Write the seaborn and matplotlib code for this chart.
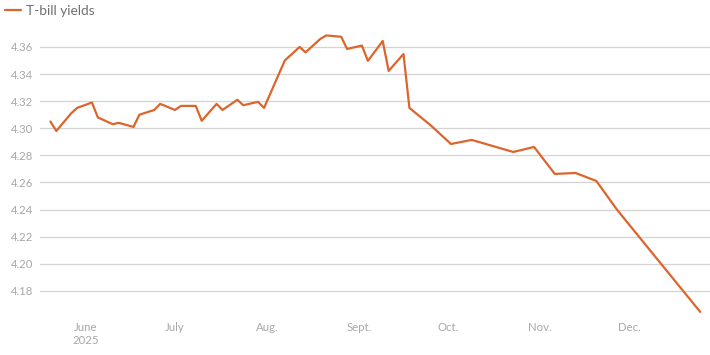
import pandas as pd
import matplotlib.pyplot as plt
import seaborn as sns

# T-bill yields
dates = ["2025-06-03", "2025-06-05", "2025-06-10", "2025-06-12", "2025-06-17",
         "2025-06-19", "2025-06-24", "2025-06-26", "2025-07-01", "2025-07-03",
         "2025-07-08", "2025-07-10", "2025-07-15", "2025-07-17", "2025-07-22",
         "2025-07-24", "2025-07-29", "2025-07-31", "2025-08-05", "2025-08-07",
         "2025-08-12", "2025-08-14", "2025-08-21", "2025-08-26", "2025-08-28",
         "2025-09-02", "2025-09-04", "2025-09-09", "2025-09-11", "2025-09-16",
         "2025-09-18", "2025-09-23", "2025-09-25", "2025-09-30", "2025-10-02",
         "2025-10-09", "2025-10-16", "2025-10-23", "2025-11-06", "2025-11-13",
         "2025-11-20", "2025-11-27", "2025-12-04", "2025-12-11", "2026-01-08"]
yields = [4.305, 4.298, 4.311, 4.315, 4.319,
          4.308, 4.303, 4.304, 4.301, 4.310,
          4.3135, 4.318, 4.3135, 4.3165, 4.3165,
          4.3055, 4.318, 4.3135, 4.321, 4.317,
          4.3195, 4.315, 4.350, 4.360, 4.356,
          4.366, 4.3685, 4.3675, 4.3585, 4.361,
          4.3497, 4.3644, 4.3423, 4.3548, 4.315,
          4.3025, 4.2884, 4.2914, 4.2825, 4.2862,
          4.2663, 4.267, 4.2611, 4.2398, 4.1645]

month_pos = ["2025-06-15", "2025-07-15", "2025-08-15", "2025-09-15",
             "2025-10-15", "2025-11-15", "2025-12-15"]
month_labels = ["June\n2025", "July", "Aug.", "Sept.", "Oct.", "Nov.", "Dec."]
ytick_vals = [4.18, 4.20, 4.22, 4.24, 4.26, 4.28, 4.30, 4.32, 4.34, 4.36]

df = pd.DataFrame({"date": pd.to_datetime(dates), "yield": yields})

sns.set_style("white")
plt.rcParams['font.family'] = ['Lato', 'DejaVu Sans']

orange = "#dc652b"
grey_txt = "#a8a8a8"

fig = plt.figure(figsize=(7.1, 3.55), dpi=100)
ax = fig.add_axes([40 / 710, 1 - 318 / 355, 670 / 710, 288 / 355])

sns.lineplot(data=df, x="date", y="yield", ax=ax, color=orange,
             linewidth=1.6, label="T-bill yields")

ref = pd.Timestamp("2025-06-15")
ax.set_xlim(ref + pd.Timedelta(days=-15.5), ref + pd.Timedelta(days=210.3))
ax.set_ylim(4.16, 4.3725)

ax.set_yticks(ytick_vals)
ax.set_yticklabels([f"{v:.2f}" for v in ytick_vals])
ax.set_xticks(pd.to_datetime(month_pos))
ax.set_xticklabels(month_labels, ha="center", linespacing=1.25)

ax.grid(axis="y", color="#d4d4d4", linewidth=0.9)
ax.grid(axis="x", visible=False)
ax.set_axisbelow(True)
for s in ax.spines.values():
    s.set_visible(False)
ax.tick_params(axis="y", length=0, pad=5, labelsize=8.2, labelcolor=grey_txt)
ax.tick_params(axis="x", length=0, pad=3, labelsize=8.2, labelcolor=grey_txt)
ax.set_xlabel("")
ax.set_ylabel("")

leg = ax.legend(loc="upper left", bbox_to_anchor=(5 / 710, 1 - 5 / 355),
                bbox_transform=fig.transFigure, frameon=False,
                handlelength=1.15, handletextpad=0.4, borderpad=0,
                borderaxespad=0, fontsize=9.8)
for t in leg.get_texts():
    t.set_color("#707070")

fig.savefig("out.png", dpi=100)
